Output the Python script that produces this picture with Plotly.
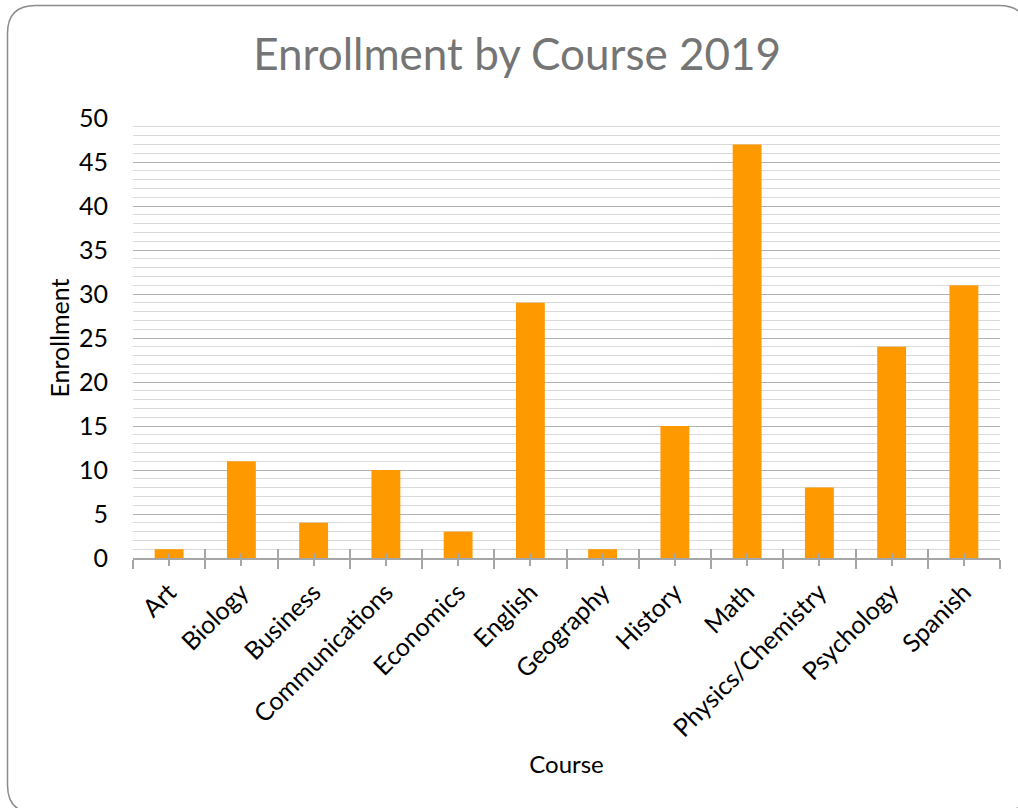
import plotly.graph_objects as go

courses = ["Art", "Biology", "Business", "Communications", "Economics", "English",
           "Geography", "History", "Math", "Physics/Chemistry", "Psychology", "Spanish"]
enrollment = [1, 11, 4, 10, 3, 29, 1, 15, 47, 8, 24, 31]

W, H = 1018, 808
L, R, T, B = 133, 18, 118, 250
PW, PH = W - L - R, H - T - B

def px(x):
    return (x - L) / PW

def py(y):
    return (H - B - y) / PH

n = len(courses)
centers = list(range(n))
bounds = [i - 0.5 for i in range(n + 1)]

fig = go.Figure()
fig.add_trace(go.Bar(x=courses, y=enrollment, marker_color="#FF9900",
                     marker_line_width=0, width=0.4, showlegend=False))
for ax in ("x2", "x3"):
    fig.add_trace(go.Scatter(x=centers, y=[0] * n, xaxis=ax,
                             mode="none", showlegend=False, hoverinfo="skip"))

font = "Lato, 'Open Sans', sans-serif"
tick_col = "#a6a6a6"

# rounded border
l_, t_, r_, b_, rad = 7.5, 5.5, 1027, 813, 28
path = (f"M {px(l_+rad)},{py(t_)} L {px(r_-rad)},{py(t_)} Q {px(r_)},{py(t_)} {px(r_)},{py(t_+rad)} "
        f"L {px(r_)},{py(b_-rad)} Q {px(r_)},{py(b_)} {px(r_-rad)},{py(b_)} "
        f"L {px(l_+rad)},{py(b_)} Q {px(l_)},{py(b_)} {px(l_)},{py(b_-rad)} "
        f"L {px(l_)},{py(t_+rad)} Q {px(l_)},{py(t_)} {px(l_+rad)},{py(t_)} Z")

fig.update_layout(
    width=W, height=H,
    margin=dict(l=L, r=R, t=T, b=B, autoexpand=False),
    paper_bgcolor="white", plot_bgcolor="white",
    title=dict(text="Enrollment by Course 2019", x=0.508, xanchor="center",
               y=1 - 55 / H, yanchor="middle",
               font=dict(family=font, size=44, color="#757575")),
    font=dict(family=font, color="#000000"),
    xaxis=dict(type="category", categoryorder="array", categoryarray=courses,
               range=[-0.5, n - 0.5],
               tickangle=-45, tickfont=dict(size=25, color="#000000"),
               ticklabelstandoff=8,
               showline=True, linecolor=tick_col, linewidth=1.5,
               ticks="outside", ticklen=9, tickwidth=1.5, tickcolor=tick_col,
               tickson="boundaries", showgrid=False,
               title=dict(text="Course", font=dict(size=24, color="#000000"), standoff=15)),
    xaxis2=dict(overlaying="x", range=[-0.5, n - 0.5], showgrid=False,
                showticklabels=False, ticks="inside", ticklen=9, tickwidth=1.5,
                tickcolor=tick_col, tickvals=bounds,
                minor=dict(tickvals=centers, ticks="inside", ticklen=5, tickwidth=1.5,
                           tickcolor=tick_col, showgrid=False),
                anchor="y", side="bottom", zeroline=False, showline=False),
    xaxis3=dict(overlaying="x", range=[-0.5, n - 0.5], showgrid=False,
                showticklabels=False, ticks="outside", ticklen=7, tickwidth=1.5,
                tickcolor=tick_col, tickvals=centers,
                anchor="y", side="bottom", zeroline=False, showline=False),
    yaxis=dict(range=[0, 50], dtick=5, tickfont=dict(size=25, color="#000000"),
               showgrid=True, gridcolor="#b3b3b3", gridwidth=1.2,
               minor=dict(dtick=1, showgrid=True, gridcolor="#d9d9d9", gridwidth=1.2),
               zeroline=False, showline=False, ticks="", ticklabelstandoff=24,
               title=dict(text="Enrollment", font=dict(size=25, color="#000000"), standoff=2)),
    shapes=[dict(type="path", path=path, xref="paper", yref="paper",
                 line=dict(color="#8c8c8c", width=1.5), fillcolor="rgba(0,0,0,0)", layer="below")],
)

fig.write_html("out.html", config={"displayModeBar": False},
               post_script="document.body.style.margin='0';document.body.style.padding='0';")
